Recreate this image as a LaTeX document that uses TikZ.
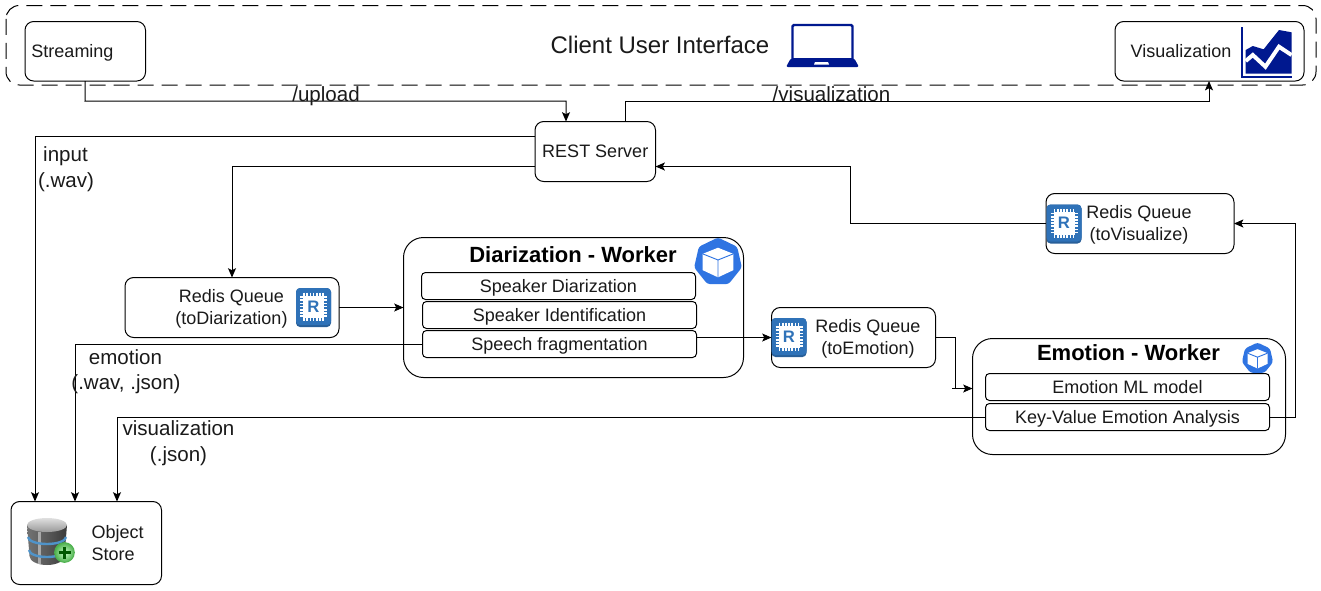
\documentclass[tikz,border=0pt]{standalone}
\usepackage{fontspec}
\setmainfont{Liberation Sans}
\usetikzlibrary{arrows.meta,shapes.geometric}
\definecolor{navy}{HTML}{00188F}
\definecolor{kblue}{HTML}{2F74E2}
\definecolor{rblue}{HTML}{2F72B8}
\definecolor{rdark}{HTML}{285F99}
\definecolor{ink}{HTML}{1A1A1A}
\definecolor{dbband}{HTML}{4F93C9}
\tikzset{
  box/.style={draw=black,line width=.75pt,rounded corners=6.5pt,inner sep=0pt,outer sep=0pt,text=ink,text height=9.5pt,text depth=0pt,font=\fontsize{13.5}{16.2}\selectfont},
  inner/.style={box,rounded corners=3pt,fill=white},
  big/.style={box,rounded corners=15pt},
  txt/.style={inner sep=0pt,outer sep=0pt,text=ink,font=\fontsize{13.5}{16.2}\selectfont},
  lab/.style={txt,font=\fontsize{15.4}{18}\selectfont},
  head/.style={txt,text=black,font=\fontsize{16.5}{20}\selectfont\bfseries},
  conn/.style={draw=black,line width=.75pt},
  arr/.style={conn,-{Stealth[length=7pt,width=6pt,inset=1.5pt]}}
}
\newcommand{\bx}[6]{\node[#1,minimum width={(#5-#3)*0.75pt},minimum height={(#6-#4)*0.75pt}] (#2) at ({(#3+#5)/2},{(#4+#6)/2})}
\newcommand{\redisicon}[3]{%
  \begin{scope}[shift={(#2,#3)}]
    \fill[rdark,rounded corners=3pt] (-17.5,-19.5) rectangle (17.5,19.5);
    \fill[rblue,rounded corners=3pt] (-17.5,-19.5) rectangle (17.5,17.5);
    \foreach \t in {-9.5,-6.3,-3.2,0,3.2,6.3,9.5}{
      \draw[white,line width=1.2pt] (\t,-15) -- (\t,13.5);
      \draw[white,line width=1.2pt] (-13.5,\t-1) -- (13.5,\t-1);
    }
    \fill[white] (-10.5,-12) rectangle (10.5,10.5);
    \node[inner sep=0pt,text=rblue,font=\fontsize{12.5}{13}\selectfont\bfseries] (#1) at (0,-1) {R};
  \end{scope}}
\newcommand{\kubeicon}[4]{%
  \node[regular polygon,regular polygon sides=7,minimum size={2*#4*0.75pt},fill=kblue,draw=none,inner sep=0pt,rounded corners=2pt] (#1) at (#2,#3) {};
  \begin{scope}[shift={(#2,#3)},scale={#4/24}]
    \fill[white] (0,-14) -- (15,-8) -- (15,8) -- (0,15) -- (-15,8) -- (-15,-8) -- cycle;
    \draw[kblue,line width=.7pt] (-15,-8) -- (0,-2) -- (15,-8) (0,-2) -- (0,15);
  \end{scope}}
\begin{document}
\begin{tikzpicture}[x=0.75pt,y=-0.75pt]
\useasboundingbox[fill=white] (0,0) rectangle (1321,590);

% frame
\draw[line width=.75pt,dash pattern=on 12pt off 6pt,rounded corners=10pt] (6,5.5) rectangle (1316,85);
\node[txt,font=\fontsize{18}{22}\selectfont] (title) at (660,45) {Client User Interface};

% boxes
\bx{box}{stream}{25}{21.5}{145.5}{81} {};
\node[txt] (streamT) at (72.5,53) {Streaming};
\bx{box}{vis}{1115}{21.5}{1304}{81} {};
\node[txt] (visT) at (1181,51) {Visualization};
\bx{box}{rest}{535}{121.5}{655.5}{181.5} {REST Server};
\bx{box}{rdiar}{125}{277.5}{339}{337.5} {};
\node[txt,align=center] (rdiarT) at (231.5,309) {Redis Queue\\(toDiarization)};
\bx{big}{dw}{403.5}{237.5}{743.5}{377.5} {};
\node[head] (dwT) at (573,254.5) {Diarization - Worker};
\bx{inner}{d1}{421.5}{272.5}{695.5}{299.5} {Speaker Diarization};
\bx{inner}{d2}{422.5}{301.5}{696.5}{328.5} {Speaker Identification};
\bx{inner}{d3}{422.5}{330.5}{696.5}{357.5} {Speech fragmentation};
\bx{box}{remo}{771.5}{307.5}{935.5}{367.5} {};
\node[txt,align=center] (remoT) at (868,339) {Redis Queue\\(toEmotion)};
\bx{box}{rviz}{1046}{193.5}{1234}{253.5} {};
\node[txt,align=center] (rvizT) at (1139,225) {Redis Queue\\(toVisualize)};
\bx{big}{ew}{972.5}{338.5}{1285.5}{454.5} {};
\node[head] (ewT) at (1128.5,353) {Emotion - Worker};
\bx{inner}{e1}{985.5}{373.5}{1269.5}{400.5} {Emotion ML model};
\bx{inner}{e2}{985.5}{403.5}{1269.5}{430.5} {Key-Value Emotion Analysis};
\bx{box}{store}{11}{501.5}{161.5}{584.5} {};
\node[txt,align=left,anchor=west] (storeT) at (91.5,543) {Object\\Store};

% connectors
\draw[arr] (stream.south) -- (85,101) -- (566,101) -- (rest.north -| 566,0);
\draw[arr] (rest.north -| 625.5,0) -- (625.5,101) -- (1209,101) -- (vis.south -| 1209,0);
\draw[arr] (rest.west |- 0,136.5) -- (35,136.5) -- (store.north -| 35,0);
\draw[arr] (rest.west |- 0,166.5) -- (232,166.5) -- (rdiar.north -| 232,0);
\draw[arr] (rdiar.east |- 0,307.5) -- (dw.west |- 0,307.5);
\draw[arr] (d3.west) -- (75,344) -- (store.north -| 75,0);
\draw[arr] (d3.east |- 0,337.5) -- (remo.west |- 0,337.5);
\draw[conn] (remo.east |- 0,337) -- (955,337) -- (955,388.5) -- (952,388.5);
\draw[arr] (952,388.5) -- (ew.west |- 0,388.5);
\draw[arr] (e2.east) -- (1295.5,417) -- (1295.5,223.5) -- (rviz.east |- 0,223.5);
\draw[arr] (e2.west) -- (117,417) -- (store.north -| 117,0);
\draw[arr] (rviz.west |- 0,223.5) -- (850.5,223.5) -- (850.5,166.5) -- (rest.east |- 0,166.5);

% connector labels
\node[lab] (lupload) at (326,96) {/upload};
\node[lab] (lviz) at (831.5,94.5) {/visualization};
\node[lab] (linput) at (65.5,156.5) {input};
\node[lab] (lwav) at (66,182) {(.wav)};
\node[lab] (lemo) at (125.5,357) {emotion};
\node[lab] (lemo2) at (126,384) {(.wav, .json)};
\node[lab] (lvis) at (178.5,428.5) {visualization};
\node[lab] (lvis2) at (178.5,456) {(.json)};

% icons
\redisicon{ri1}{313.5}{307.5}
\redisicon{ri2}{789}{337.5}
\redisicon{ri3}{1064}{224}
\kubeicon{k1}{718}{262}{24.5}
\kubeicon{k2}{1257.5}{358.5}{16}

% laptop
\draw[navy,line width=1.8pt,rounded corners=1pt] (792.5,59) -- (792.5,25) -- (852.5,25) -- (852.5,59);
\fill[navy,rounded corners=1.5pt] (791,58) -- (854,58) -- (859,67) -- (786,67) -- cycle;
\fill[white] (815,62) -- (828,62) -- (829,64.5) -- (814,64.5) -- cycle;

% chart
\draw[navy,line width=1.5pt] (1242,27) -- (1242,77) -- (1291.5,77);
\fill[navy] (1245.7,50) -- (1252.8,46) -- (1263.6,49.3) -- (1279,30) -- (1291.5,32.3) -- (1291.5,73.5) -- (1245.7,73.5) -- cycle;
\draw[white,line width=3pt] (1245.7,61) -- (1252.8,55) -- (1265.4,66.7) -- (1279,46.7) -- (1291.5,55);

% database
\shade[left color=gray!90!black,right color=gray!45!black,middle color=gray!70!black] (27,525) -- (29.5,556) arc[start angle=180,end angle=0,x radius=17.5,y radius=9] -- (67,525) -- cycle;
\shade[top color=gray!25,bottom color=gray!80] (47,525) ellipse[x radius=20,y radius=7];
\fill[white,opacity=.45] (38,531.5) rectangle (41,564);
\draw[dbband,line width=1.8pt] (28,537) arc[start angle=180,end angle=0,x radius=19,y radius=7];
\draw[dbband,line width=1.8pt] (29,550) arc[start angle=180,end angle=0,x radius=18,y radius=7];
\shade[inner color=green!22!white,outer color=green!55!black!70!white,draw=green!40!gray,line width=.5pt] (64.5,552.5) circle[radius=10];
\draw[green!35!black,line width=2.1pt] (58.5,552.5) -- (70.5,552.5) (64.5,546.5) -- (64.5,558.5);
\end{tikzpicture}
\end{document}
